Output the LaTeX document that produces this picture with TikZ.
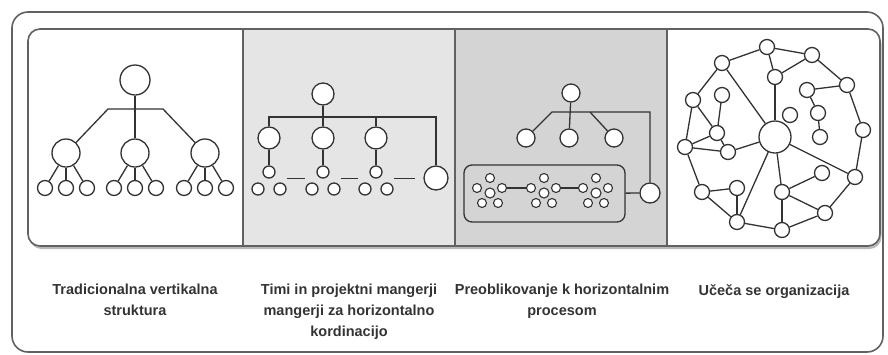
\documentclass[tikz,border=0pt]{standalone}
\usepackage{fontspec}
\setmainfont{Liberation Sans}
\usetikzlibrary{positioning, shadows}
\colorlet{LineGray}{black!80}
\colorlet{FrameGray}{black!62}
\colorlet{TeamFill}{black!10}
\colorlet{ProcFill}{black!17}

\begin{document}
\begin{tikzpicture}[
    x=1pt, y=-1pt,
    unit/.style={
        circle, draw=LineGray, fill=white, line width=1.3pt,
        minimum size=#1, inner sep=0pt
    },
    unit/.default={15pt},
    link/.style={draw=LineGray, line width=1.3pt},
    caption/.style={
        font=\fontsize{14.5}{21}\selectfont\bfseries, text=black!80,
        align=center, anchor=north, inner sep=0pt
    }
]
\useasboundingbox (0,0) rectangle (888,354);

% Outer frame
\draw[FrameGray, line width=1.6pt, rounded corners=16pt]
    (12,12) rectangle (883,352);

% --- Panel strip ---
\path[fill=white, rounded corners=12pt,
      drop shadow={shadow xshift=1.5pt, shadow yshift=-3pt, opacity=0.55}]
    (28,29) rectangle (880,246);
\fill[TeamFill] (243,29) rectangle (455,246);
\fill[ProcFill] (455,29) rectangle (667,246);
\foreach \x in {243,455,667}
    \draw[FrameGray, line width=1.6pt] (\x,29) -- (\x,246);
\draw[FrameGray, line width=1.6pt, rounded corners=12pt]
    (28,29) rectangle (880,246);

% --- Vertical structure ---
\node[unit=30pt] (v0) at (135,80) {};
\foreach \i/\x in {1/66, 2/135, 3/205} {
    \node[unit=28pt] (v\i) at (\x,153) {};
    \foreach \j/\dx in {1/-21, 2/0, 3/21} {
        \node[unit=15pt] (v\i\j) at (\x+\dx,188) {};
        \draw[link] (v\i) -- (v\i\j);
    }
}
\coordinate (vbl) at (108,109);
\coordinate (vbr) at (163,109);
\draw[link] (v1) -- (vbl) -- (vbr) -- (v3);
\draw[link] (v0) -- (v2);

% --- Teams and project managers ---
\node[unit=22pt] (t0) at (323,94) {};
\foreach \i/\x in {1/269, 2/323, 3/376} {
    \node[unit=22pt] (t\i) at (\x,138) {};
    \node[unit=12pt] (ts\i) at (\x,172) {};
    \node[unit=12pt] (tl\i) at (\x-11,189) {};
    \node[unit=12pt] (tr\i) at (\x+11,189) {};
    \draw[link] (t\i) -- (ts\i);
}
\node[unit=24pt] (tx) at (436,178) {};
\coordinate (tbl) at (269,117);
\coordinate (tbr) at (436,117);
\draw[link] (t1) -- (tbl) -- (tbr) -- (tx);
\draw[link] (t0) -- (t2);
\draw[link] (t3) -- (t3 |- tbl);
\draw[link] (tr1.east |- ts1.south) -- (tl2.west |- ts1.south);
\draw[link] (tr2.east |- ts1.south) -- (tl3.west |- ts1.south);
\draw[link] (tr3.east |- ts1.south) -- ++(21,0);

% --- Horizontal processes ---
\node[unit=18pt] (p0) at (571,93) {};
\node[unit=18pt] (p1) at (526,138) {};
\node[unit=18pt] (p2) at (569,138) {};
\node[unit=18pt] (p3) at (614,138) {};
\node[unit=20pt] (px) at (650,193) {};
\coordinate (pbl) at (552,112);
\coordinate (pbm) at (590,112);
\coordinate (pbr) at (650,112);
\draw[link] (p1) -- (pbl) -- (pbr) -- (px);
\draw[link] (p0) -- (p2);
\draw[link] (pbm) -- (p3);
\node[draw=LineGray, line width=1.3pt, rounded corners=8pt,
      minimum width=161pt, minimum height=57pt, inner sep=0pt]
    (pbox) at (544.5,193.5) {};
\draw[link] (pbox) -- (px);
\foreach \k/\x in {1/490, 2/544, 3/596} {
    \node[unit=10pt, line width=1.1pt] (c\k) at (\x,193) {};
    \foreach \n/\dx/\dy in {t/0/-15, l/-13/-5, r/12/-5, a/-8/10, b/8/10}
        \node[unit=9pt, line width=1.1pt] (c\k\n) at (\x+\dx,193+\dy) {};
}
\draw[link] (c1r) -- (c2l);
\draw[link] (c2r) -- (c3l);

% --- Learning organisation ---
\node[unit=32pt] (hub) at (775,137) {};
\foreach \n/\x/\y in {1/767/47, 2/812/55, 3/775/77, 4/722/63, 5/847/85,
        6/807/90, 7/722/95, 8/693/100, 9/790/115, 10/818/113, 11/863/130,
        12/717/133, 13/820/137, 14/685/147, 15/728/152, 16/822/173,
        17/855/177, 18/702/192, 19/737/188, 20/782/192, 21/825/213,
        22/737/222, 23/782/230}
    \node[unit] (o\n) at (\x,\y) {};
\foreach \a/\b in {hub/o3, hub/o4, hub/o15, hub/o17, hub/o20, hub/o22,
        o1/o2, o1/o3, o2/o3, o1/o4, o2/o5, o4/o8, o5/o6, o5/o11, o6/o10,
        o10/o13, o7/o12, o8/o12, o8/o14, o12/o14, o12/o15, o14/o15,
        o14/o18, o18/o19, o18/o22, o19/o22, o22/o23, o20/o16, o20/o21,
        o20/o23, o21/o23, o21/o17, o17/o11}
    \draw[link] (\a) -- (\b);

% Captions
\node[caption] (cap1) at (135,284) {Tradicionalna vertikalna\\struktura};
\node[caption] (cap2) at (349,284)
    {Timi in projektni mangerji\\mangerji za horizontalno\\kordinacijo};
\node[caption] (cap3) at (562,284) {Preoblikovanje k horizontalnim\\procesom};
\node[caption] (cap4) at (774,284) {Učeča se organizacija};

\end{tikzpicture}
\end{document}
